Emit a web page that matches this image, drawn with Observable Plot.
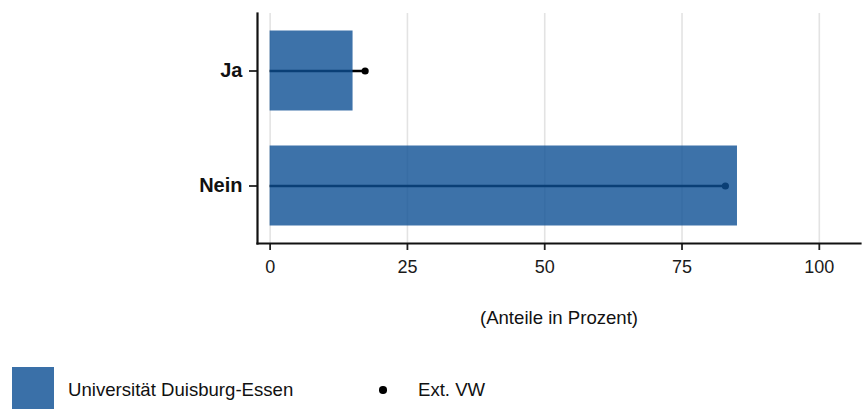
<!DOCTYPE html>
<html><head><meta charset="utf-8">
<script src="https://cdn.jsdelivr.net/npm/d3@7"></script>
<script src="https://cdn.jsdelivr.net/npm/@observablehq/plot@0.6"></script>
<style>
body{margin:0;background:#fff;font-family:"Liberation Sans",Arial,sans-serif;}
#chart{position:relative;width:863px;height:409px;overflow:hidden;}
.legend{position:absolute;top:367px;left:0;width:863px;height:42px;font-size:18.6px;color:#111;}
.sw{position:absolute;left:12px;top:0;width:42px;height:42px;background:#3a70a8;}
.l1{position:absolute;left:68px;top:13px;line-height:20px;}
.dotk{position:absolute;left:379px;top:19px;width:7.5px;height:7.5px;border-radius:50%;background:#000;}
.l2{position:absolute;left:418px;top:13px;line-height:20px;}
</style></head>
<body><div id="chart"></div>
<script>
const categories = ["Ja", "Nein"];
const udeValues = [15.1, 85.1];
const extValues = [17.3, 82.9];
const xTicks = [0, 25, 50, 75, 100];
const axisTitle = "(Anteile in Prozent)";
const seriesNames = ["Universität Duisburg-Essen", "Ext. VW"];

const data = categories.map((c, i) => ({cat: c, ude: udeValues[i], ext: extValues[i]}));
const xDomain = [-2.3, 107.5];

const plot = Plot.plot({
  width: 863, height: 345,
  marginLeft: 257, marginRight: 3, marginTop: 13, marginBottom: 102,
  style: {fontFamily: "Liberation Sans, Arial, sans-serif", background: "#fff"},
  x: {domain: xDomain, axis: null},
  y: {domain: categories, padding: 0, axis: null},
  marks: [
    Plot.ruleX(xTicks, {stroke: "#e3e3e3", strokeWidth: 1.6}),
    Plot.ruleY(data, {y: "cat", x1: 0, x2: "ext", stroke: "#000", strokeWidth: 2.6}),
    Plot.dot(data, {y: "cat", x: "ext", r: 3.6, fill: "#000"}),
    Plot.barX(data, {y: "cat", x1: 0, x2: "ude", fill: "#0c4f94", fillOpacity: 0.8, insetTop: 17.5, insetBottom: 17.5}),
    Plot.axisX({ticks: xTicks, tickSize: 7, tickPadding: 10, fontSize: 18, color: "#1a1a1a", stroke: "#222", strokeWidth: 1.8, label: null}),
    Plot.axisY({tickSize: 8, tickPadding: 7, fontSize: 20, fontWeight: "bold", color: "#111", stroke: "#222", strokeWidth: 1.8, label: null}),
    Plot.frame({anchor: "left", stroke: "#111", strokeWidth: 2.2}),
    Plot.frame({anchor: "bottom", stroke: "#111", strokeWidth: 2.2}),
    Plot.text([axisTitle], {frameAnchor: "bottom", dy: 80, fontSize: 18.6, fill: "#111"})
  ]
});
document.getElementById("chart").appendChild(plot);
const leg = document.createElement("div");
leg.className = "legend";
leg.innerHTML = `<div class="sw"></div><span class="l1">${seriesNames[0]}</span><div class="dotk"></div><span class="l2">${seriesNames[1]}</span>`;
document.getElementById("chart").appendChild(leg);
</script></body></html>
